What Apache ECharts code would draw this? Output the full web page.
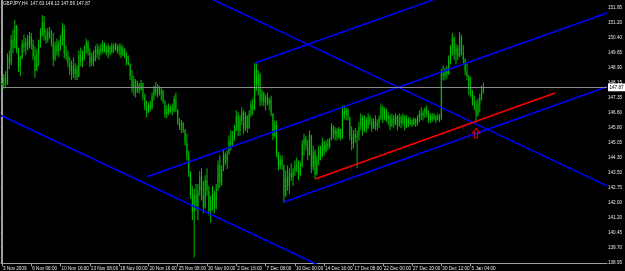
<!DOCTYPE html>
<html><head><meta charset="utf-8">
<script src="https://cdn.jsdelivr.net/npm/echarts@6/dist/echarts.min.js"></script>
<style>html,body{margin:0;padding:0;background:#000}#c{width:625px;height:271px}</style>
</head><body><div id="c"></div>
<script>
const titleText = "GBPJPY,H4  147.63 148.12 147.56 147.87";
const xTickLabels = ["3 Nov 2009","6 Nov 08:00","10 Nov 16:00","13 Nov 08:00","18 Nov 00:00","20 Nov 16:00","25 Nov 08:00","30 Nov 00:00","2 Dec 16:00","7 Dec 08:00","10 Dec 00:00","14 Dec 16:00","17 Dec 08:00","22 Dec 00:00","27 Dec 20:00","30 Dec 12:00","5 Jan 04:00"];
const labelStride = 16;
const slotCount = 331;
const yTickLabels = ["138.95","139.70","140.45","141.20","142.00","142.75","143.50","144.30","145.05","145.80","146.60","147.35","148.15","148.90","149.65","150.40","151.20","151.95"];
const priceMin = 138.91, priceMax = 152.32;
const bidPrice = 147.87;

const opens = [
148.10,147.95,148.40,148.05,149.40,149.10,150.30,149.90,151.00,149.80,
148.95,149.35,150.10,149.90,150.20,150.00,150.50,150.05,149.45,148.70,
149.60,150.10,150.70,151.20,150.50,150.30,150.70,150.45,150.10,149.30,
150.00,149.70,150.05,150.30,150.85,149.60,149.45,149.10,148.70,148.95,
148.55,148.85,148.40,149.50,149.20,149.55,149.85,150.15,149.65,149.10,
149.45,149.20,149.80,149.55,149.85,149.70,150.05,149.80,149.65,149.95,
149.60,150.00,149.75,150.05,149.70,149.95,149.50,149.85,149.45,149.15,
149.05,148.45,147.85,148.20,147.60,148.00,147.75,148.10,147.35,146.90,
146.60,146.95,146.80,147.45,147.80,147.60,147.85,147.55,147.70,147.15,
146.50,146.80,146.60,146.85,146.65,147.30,146.75,146.10,145.90,146.05,
145.70,145.05,144.35,143.55,142.40,141.50,142.40,141.85,142.60,143.35,
142.40,141.75,143.15,142.60,141.60,142.15,142.45,141.75,142.75,143.90,
143.00,143.70,144.45,144.05,144.50,145.15,144.90,145.40,145.70,146.40,
145.65,146.20,146.60,145.75,146.40,145.80,146.50,147.00,146.75,148.80,
148.00,148.50,147.20,147.60,147.10,147.35,147.05,147.25,146.55,145.40,
145.95,144.55,143.85,144.20,143.90,142.35,143.30,142.85,143.50,143.30,
143.60,143.90,143.70,143.40,143.85,144.95,145.25,144.90,144.40,145.45,
143.80,144.60,143.45,144.20,144.70,144.35,145.05,144.60,145.00,144.85,
145.20,145.85,145.45,145.70,145.35,145.75,145.30,146.70,146.45,146.70,
146.35,145.45,145.00,145.50,145.30,145.45,145.90,146.30,145.65,146.20,
145.80,146.35,146.10,145.80,146.15,145.90,146.05,146.30,146.85,146.30,
146.65,146.25,146.45,145.90,146.30,146.00,146.40,145.95,146.35,146.05,
146.40,145.85,146.25,146.00,146.20,145.95,146.25,146.05,146.35,146.55,
146.40,146.60,146.75,146.50,146.20,146.40,146.25,146.45,146.20,146.40,
146.30,148.60,148.45,148.70,148.55,149.30,149.80,150.40,149.55,149.85,
149.45,150.45,149.70,149.30,148.70,148.45,147.75,147.55,147.10,146.90,
146.45,147.05,147.40,147.63];

const closes = [
147.95,148.40,148.05,149.40,149.10,150.30,149.90,151.00,149.80,148.95,
149.35,150.10,149.90,150.20,150.00,150.50,150.05,149.45,148.70,149.60,
150.10,150.70,151.20,150.50,150.30,150.70,150.45,150.10,149.30,150.00,
149.70,150.05,150.30,150.85,149.60,149.45,149.10,148.70,148.95,148.55,
148.85,148.40,149.50,149.20,149.55,149.85,150.15,149.65,149.10,149.45,
149.20,149.80,149.55,149.85,149.70,150.05,149.80,149.65,149.95,149.60,
150.00,149.75,150.05,149.70,149.95,149.50,149.85,149.45,149.15,149.05,
148.45,147.85,148.20,147.60,148.00,147.75,148.10,147.35,146.90,146.60,
146.95,146.80,147.45,147.80,147.60,147.85,147.55,147.70,147.15,146.50,
146.80,146.60,146.85,146.65,147.30,146.75,146.10,145.90,146.05,145.70,
145.05,144.35,143.55,142.40,141.50,142.40,141.85,142.60,143.35,142.40,
141.75,143.15,142.60,141.60,142.15,142.45,141.75,142.75,143.90,143.00,
143.70,144.45,144.05,144.50,145.15,144.90,145.40,145.70,146.40,145.65,
146.20,146.60,145.75,146.40,145.80,146.50,147.00,146.75,148.80,148.00,
148.50,147.20,147.60,147.10,147.35,147.05,147.25,146.55,145.40,145.95,
144.55,143.85,144.20,143.90,142.35,143.30,142.85,143.50,143.30,143.60,
143.90,143.70,143.40,143.85,144.95,145.25,144.90,144.40,145.45,143.80,
144.60,143.45,144.20,144.70,144.35,145.05,144.60,145.00,144.85,145.20,
145.85,145.45,145.70,145.35,145.75,145.30,146.70,146.45,146.70,146.35,
145.45,145.00,145.50,145.30,145.45,145.90,146.30,145.65,146.20,145.80,
146.35,146.10,145.80,146.15,145.90,146.05,146.30,146.85,146.30,146.65,
146.25,146.45,145.90,146.30,146.00,146.40,145.95,146.35,146.05,146.40,
145.85,146.25,146.00,146.20,145.95,146.25,146.05,146.35,146.55,146.40,
146.60,146.75,146.50,146.20,146.40,146.25,146.45,146.20,146.40,146.30,
148.60,148.45,148.70,148.55,149.30,149.80,150.40,149.55,149.85,149.45,
150.45,149.70,149.30,148.70,148.45,147.75,147.55,147.10,146.90,146.45,
147.05,147.40,147.63,147.87];

const highs = [
148.45,148.55,148.70,149.60,149.75,150.55,150.80,151.30,151.05,149.90,
149.50,150.30,150.55,150.40,150.55,150.70,150.65,150.30,149.95,149.80,
150.30,150.90,151.55,151.50,150.85,150.90,150.95,150.80,150.65,150.20,
150.35,150.25,150.55,151.15,151.05,150.00,149.75,149.40,149.25,149.40,
149.10,149.00,149.75,149.90,149.75,150.00,150.35,150.25,149.85,149.65,
149.75,150.00,150.10,150.00,150.10,150.25,150.15,150.00,150.10,150.00,
150.15,150.10,150.15,150.05,150.10,150.10,150.00,149.85,149.65,149.50,
149.10,148.75,148.45,148.30,148.20,148.10,148.25,148.10,147.55,147.20,
147.10,147.20,147.60,147.95,148.15,148.05,147.95,147.85,147.75,147.20,
146.95,147.05,146.95,147.05,147.45,147.60,146.75,146.30,146.20,146.10,
145.75,145.50,144.65,143.60,142.85,142.70,142.95,142.95,143.60,143.75,
143.10,143.40,143.75,142.85,142.35,142.85,142.60,142.95,144.15,144.40,
143.90,144.66,144.55,144.66,145.42,145.68,145.65,145.95,146.70,146.60,
146.45,146.85,146.70,146.60,146.45,146.70,147.20,147.30,149.10,149.10,
148.74,148.60,147.75,147.65,147.50,147.60,147.35,147.45,146.55,146.19,
146.15,144.60,144.40,144.40,143.95,143.64,143.90,143.75,144.00,143.75,
144.15,144.30,144.15,144.05,145.17,145.50,145.40,145.20,145.68,145.45,
144.90,144.70,144.40,144.90,144.90,145.30,145.15,145.17,145.25,145.30,
146.05,145.95,145.85,145.80,145.85,145.75,146.95,146.95,146.85,146.80,
146.35,145.90,145.70,145.80,145.68,146.10,146.55,146.45,146.45,146.35,
146.55,146.45,146.30,146.30,146.45,146.25,146.45,147.05,146.95,146.85,
146.80,146.60,146.45,146.55,146.45,146.55,146.45,146.55,146.45,146.55,
146.45,146.45,146.35,146.35,146.25,146.35,146.30,146.45,146.70,146.85,
146.70,146.85,146.95,146.70,146.55,146.55,146.55,146.45,146.55,146.50,
148.80,148.99,148.85,148.95,149.50,150.02,150.65,150.45,150.10,150.02,
150.70,150.55,150.02,149.35,149.10,148.50,148.40,147.72,147.45,147.21,
147.30,147.55,147.97,148.12];

const lows = [
147.75,147.80,147.90,148.00,148.80,149.00,149.60,149.85,149.60,148.65,
148.45,149.30,149.65,149.50,149.75,149.85,149.80,149.25,148.35,148.70,
148.95,149.90,150.45,150.25,150.10,150.15,150.35,149.95,148.95,149.20,
149.50,149.40,149.75,150.00,149.35,149.25,148.90,148.50,148.25,148.35,
148.25,148.25,148.40,148.95,148.90,149.25,149.60,149.50,148.90,148.95,
148.95,149.20,149.35,149.25,149.50,149.60,149.65,149.50,149.35,149.50,
149.60,149.65,149.75,149.60,149.50,149.35,149.45,149.35,148.99,148.99,
148.25,147.60,147.45,147.35,147.60,147.55,147.70,147.20,146.70,146.35,
146.55,146.65,146.75,147.20,147.45,147.35,147.45,147.20,147.05,146.30,
146.30,146.45,146.55,146.45,146.60,146.60,145.95,145.70,145.55,145.55,
144.90,144.15,143.30,142.20,141.10,139.20,141.60,141.10,142.35,142.10,
141.45,141.70,142.35,141.35,140.98,141.60,141.45,141.65,142.60,142.75,
142.85,143.60,143.90,143.70,144.45,144.65,144.85,145.15,145.65,145.40,
145.40,145.95,145.50,145.65,145.55,145.75,146.35,146.45,146.70,147.70,
147.45,146.90,146.95,146.90,146.70,146.95,146.70,146.40,145.17,145.30,
144.30,143.64,143.70,143.65,142.00,142.30,142.60,142.45,143.10,142.85,
143.35,143.55,143.13,143.35,143.80,144.40,144.66,144.15,144.40,143.50,
143.64,143.20,143.40,143.90,144.15,144.30,144.40,144.55,144.66,144.75,
145.17,145.25,145.17,145.17,145.25,145.17,145.25,146.25,146.19,146.19,
145.17,144.66,144.75,145.05,143.75,145.17,145.68,145.42,145.60,145.55,
145.75,145.95,145.60,145.75,145.68,145.68,145.80,146.19,146.05,146.19,
146.10,145.93,145.68,145.85,145.80,145.93,145.68,145.85,145.80,145.93,
145.68,145.80,145.85,145.93,145.85,145.93,145.85,145.93,146.10,146.19,
146.19,146.30,146.35,146.05,146.05,146.10,146.19,146.05,146.19,146.10,
146.19,148.23,148.23,148.30,148.50,149.05,149.50,149.25,149.05,149.25,
149.40,149.50,149.05,148.48,148.23,147.46,147.35,146.95,146.70,146.09,
146.40,146.60,147.20,147.56];

// trend lines in (bar index, price)
const blueLines = [
  [[-0.49,146.44],[179.25,138.54]],
  [[111.0,152.53],[330.5,142.85]],
  [[79.3,143.32],[330.5,151.66]],
  [[138.3,149.11],[242.0,152.54]],
  [[154.1,142.03],[330.5,147.90]]
];
const redLine = [[171.1,143.20],[302.1,147.58]];
const arrowPoint = [259, 145.54];

const categories = Array.from({length: slotCount}, (_, i) =>
  (i % labelStride === 0 && i / labelStride < xTickLabels.length) ? xTickLabels[i / labelStride] : '');
const showTick = (i) => i % labelStride === 0 && i / labelStride < xTickLabels.length;
const barData = opens.map((o, i) => [i, o, closes[i], lows[i], highs[i]]);

const axisGray = '#a0a0a0';
const txt = '#e6e6e6';
const fs = 4.6;
const ff = 'Liberation Sans, Arial, sans-serif';

function renderBar(params, api) {
  const x = api.value(0);
  const pO = api.coord([x, api.value(1)]);
  const pC = api.coord([x, api.value(2)]);
  const pL = api.coord([x, api.value(3)]);
  const pH = api.coord([x, api.value(4)]);
  const bw = 1.5;
  const top = Math.min(pO[1], pC[1]);
  const h = Math.max(Math.abs(pO[1] - pC[1]), 0.8);
  return {type: 'group', children: [
    {type: 'rect', shape: {x: pO[0] - bw / 2, y: top, width: bw, height: h}, style: {fill: '#005200'}},
    {type: 'line', shape: {x1: pH[0], y1: pH[1], x2: pL[0], y2: pL[1]}, style: {stroke: '#00e000', lineWidth: 0.85}}
  ]};
}

const series = [{
  type: 'custom', xAxisIndex: 0, yAxisIndex: 0, data: barData, renderItem: renderBar,
  encode: {x: 0, y: [1, 2, 3, 4]}, silent: true, z: 3,
  markLine: {
    silent: true, symbol: ['none','none'], animation: false,
    lineStyle: {color: '#8c8c8c', type: 'solid', width: 1},
    label: {show: true, position: 'end', formatter: bidPrice.toFixed(2), backgroundColor: '#ffffff', color: '#000', fontSize: fs, fontFamily: ff, padding: [1.6, 1.5, 1.2, 1.5], distance: 1},
    data: [{yAxis: bidPrice}]
  }
}];
blueLines.forEach(l => series.push({type: 'line', xAxisIndex: 1, yAxisIndex: 0, data: l, symbol: 'none', silent: true, clip: true, z: 4, lineStyle: {color: '#0000ff', width: 1.5}}));
series.push({type: 'line', xAxisIndex: 1, yAxisIndex: 0, data: redLine, symbol: 'none', silent: true, clip: true, z: 4, lineStyle: {color: '#ff0000', width: 1.5}});
series.push({type: 'scatter', xAxisIndex: 1, yAxisIndex: 0, data: [arrowPoint], silent: true, z: 5,
  symbol: 'path://M5,0 L10,5 L7,5 L7,11 L3,11 L3,5 L0,5 Z', symbolSize: [7, 9],
  itemStyle: {color: 'rgba(0,0,0,0)', borderColor: '#ff0000', borderWidth: 1.2}});

const option = {
  backgroundColor: '#000000',
  animation: false,
  title: {text: titleText, left: 3, top: 1, padding: 0, textStyle: {color: txt, fontSize: fs, fontWeight: 'normal', fontFamily: ff}},
  grid: [
    {left: 0.8, right: 18, top: 0, bottom: 7.7},
    {left: 0.8, right: 18, top: 7.3, bottom: 8.5}
  ],
  xAxis: [
    {type: 'category', gridIndex: 0, data: categories, boundaryGap: true,
     axisLine: {show: true, lineStyle: {color: axisGray, width: 1}},
     axisTick: {show: true, alignWithLabel: true, interval: showTick, length: 3, lineStyle: {color: axisGray}},
     axisLabel: {show: true, interval: showTick, align: 'left', color: txt, fontSize: fs, fontFamily: ff, margin: 2.5, padding: [0,0,0,1]},
     splitLine: {show: false}},
    {type: 'value', gridIndex: 0, min: -0.5, max: slotCount - 0.5, show: false},
    {type: 'value', gridIndex: 1, show: false}
  ],
  yAxis: [
    {type: 'value', gridIndex: 0, position: 'right', min: priceMin, max: priceMax, scale: true,
     axisLine: {show: true, lineStyle: {color: axisGray, width: 1}}, axisTick: {show: false}, axisLabel: {show: false}, splitLine: {show: false}},
    {type: 'value', gridIndex: 0, position: 'left', min: priceMin, max: priceMax, scale: true,
     axisLine: {show: true, lineStyle: {color: axisGray, width: 1}}, axisTick: {show: false}, axisLabel: {show: false}, splitLine: {show: false}},
    {type: 'value', gridIndex: 1, position: 'right', min: 0, max: yTickLabels.length - 1, interval: 1,
     axisLine: {show: false}, splitLine: {show: false},
     axisTick: {show: true, length: 2, lineStyle: {color: axisGray}},
     axisLabel: {show: true, color: txt, fontSize: fs, fontFamily: ff, margin: 2, formatter: v => yTickLabels[Math.round(v)] || ''}}
  ],
  series: series
};
const chart = echarts.init(document.getElementById('c'));
chart.setOption(option);
</script></body></html>
